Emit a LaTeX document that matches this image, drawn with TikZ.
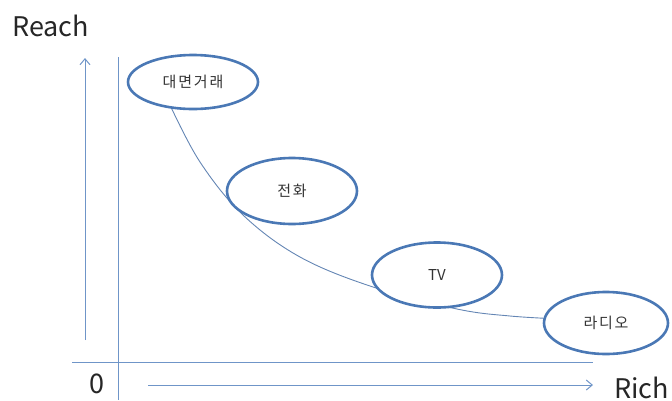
\documentclass[tikz,border=0pt]{standalone}
\usepackage{fontspec}
\setmainfont{Noto Sans CJK KR}
\usetikzlibrary{arrows.meta,shapes.geometric}
\definecolor{axisblue}{HTML}{6F95C8}
\definecolor{ellblue}{HTML}{4A78B5}
\tikzset{
  axis/.style={axisblue, line width=1pt},
  axarrow/.style={axis, -{Straight Barb[length=6pt,width=10pt]}},
  bubble/.style={ellipse, draw=ellblue, line width=2.6pt, fill=white, inner sep=0pt, text=black!80,
    font=\fontsize{15}{15}\selectfont\addfontfeatures{LetterSpace=12}},
  latinbubble/.style={bubble, font=\fontsize{15}{15}\selectfont},
  biglabel/.style={font=\fontsize{27}{27}\selectfont, text=black!85, inner sep=0pt, anchor=base west},
}
\begin{document}
\begin{tikzpicture}[x=1pt,y=-1pt]
\useasboundingbox (0,0) rectangle (672,400);
% labels
\node[biglabel] (reach) at (12,36) {Reach};
\node[biglabel] (rich) at (614,398) {Rich};
\node[biglabel] (zero) at (89,393) {0};
% axes
\coordinate (vtop) at (118,57);
\coordinate (vbot) at (118,400);
\coordinate (hl) at (72,362);
\coordinate (hr) at (593,362);
\draw[axis] (vtop) -- (vbot);
\draw[axis] (hl) -- (hr);
\coordinate (ua0) at (85,340);
\coordinate (ua1) at (85,58);
\draw[axarrow] (ua0) -- (ua1);
\coordinate (ra0) at (148,385);
\coordinate (ra1) at (593,385);
\draw[axarrow] (ra0) -- (ra1);
% curve
\draw[axisblue!90!black, line width=0.9pt] plot[smooth, tension=0.6] coordinates {(170,105) (200,162) (243,215) (300,257) (373,287) (457,309) (510,316) (560,319)};
% bubbles
\node[bubble, minimum width=130pt, minimum height=54pt] (b1) at (193,82) {대면거래};
\node[bubble, minimum width=130pt, minimum height=66pt] (b2) at (292,191) {전화};
\node[latinbubble, minimum width=130pt, minimum height=65pt] (b3) at (437,275) {TV};
\node[bubble, minimum width=124pt, minimum height=62pt] (b4) at (606,323) {라디오};
\end{tikzpicture}
\end{document}
